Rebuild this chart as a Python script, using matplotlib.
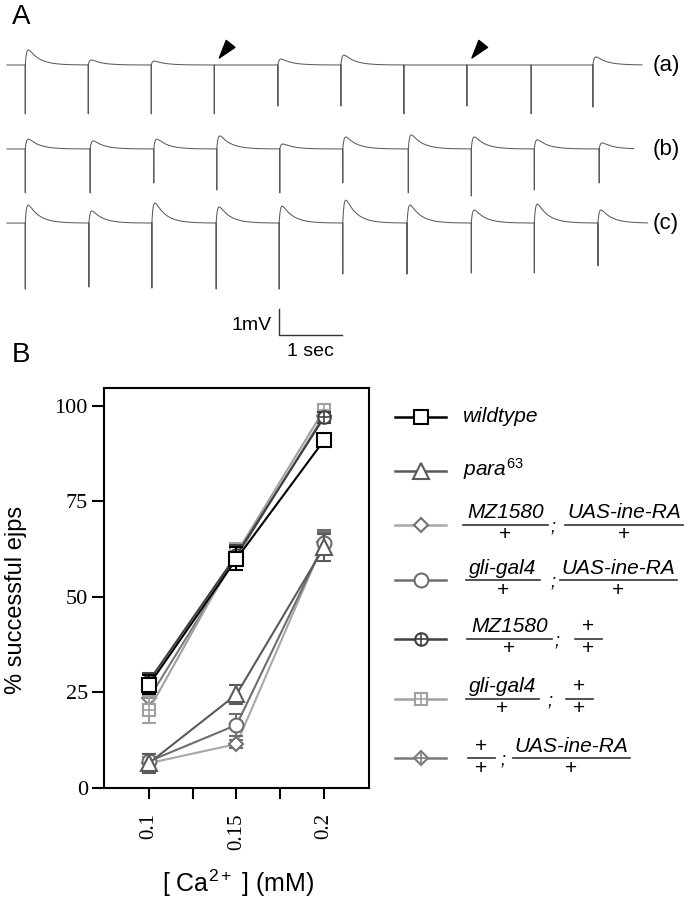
import numpy as np
import matplotlib
matplotlib.use('Agg')
import matplotlib.pyplot as plt

plt.rcParams['font.family'] = ['Liberation Sans', 'DejaVu Sans']
plt.rcParams['mathtext.fontset'] = 'custom'
plt.rcParams['mathtext.rm'] = 'Liberation Sans'
plt.rcParams['mathtext.it'] = 'Liberation Sans:italic'
plt.rcParams['mathtext.default'] = 'regular'

W, H = 688, 899

# ---- panel A: recordings (time in s, voltage in mV) ----
stim_a = [0.29, 1.29, 2.29, 3.29, 4.30, 5.30, 6.30, 7.30, 8.32, 9.30]
ejp_a = [0.58, 0.19, 0.15, 0.0, 0.23, 0.38, 0.0, 0.0, 0.0, 0.31]
art_a = [1.88, 1.88, 1.88, 1.88, 1.58, 1.58, 1.88, 1.58, 1.88, 1.62]

stim_b = [0.29, 1.32, 2.33, 3.33, 4.33, 5.33, 6.37, 7.37, 8.37, 9.40]
ejp_b = [0.38, 0.31, 0.38, 0.50, 0.19, 0.46, 0.54, 0.46, 0.35, 0.23]
art_b = [1.69, 1.69, 1.31, 1.58, 1.69, 1.31, 1.69, 1.81, 1.58, 1.31]

stim_c = [0.29, 1.30, 2.30, 3.32, 4.32, 5.33, 6.35, 7.37, 8.37, 9.38]
ejp_c = [0.69, 0.46, 0.77, 0.62, 0.65, 0.88, 0.69, 0.50, 0.73, 0.50]
art_c = [2.54, 2.46, 2.50, 2.54, 2.54, 1.96, 1.96, 1.92, 1.92, 1.65]

trace_end = [10.08, 9.95, 10.17]
trace_offset = [-2.5, -5.73, -8.58]
failures_a = [3, 7]          # stimuli in trace (a) without an ejp

# ---- panel B: % successful ejps ----
conc = [0.1, 0.15, 0.2]
wildtype = [27.0, 60.0, 91.0]
wildtype_err = [2.5, 3.0, 1.0]
para63 = [6.5, 24.5, 63.0]
para63_err = [2.5, 2.5, 3.5]
mz_uas = [6.5, 11.5, 64.5]
mz_uas_err = [1.5, 1.0, 3.0]
gli_uas = [7.0, 16.5, 64.0]
gli_uas_err = [2.0, 3.0, 3.0]
mz_plus = [28.0, 61.0, 97.0]
mz_plus_err = [2.0, 2.5, 1.5]
gli_plus = [20.5, 61.5, 99.0]
gli_plus_err = [3.5, 2.5, 1.5]
plus_uas = [23.5, 60.5, 97.5]
plus_uas_err = [2.0, 2.0, 1.5]

yticks = [0, 25, 50, 75, 100]
xticks = [0.1, 0.125, 0.15, 0.175, 0.2]
xticklabels = ['0.1', '', '0.15', '', '0.2']


def px_axes(fig, x0, y0, x1, y1):
    """axes placed by pixel box (top-left origin)"""
    return fig.add_axes([x0 / W, 1 - y1 / H, (x1 - x0) / W, (y1 - y0) / H])


def make_trace(stims, amps, depths, t_end, dt=0.002):
    t = np.arange(0, t_end, dt)
    v = np.zeros_like(t)
    for s, a, d in zip(stims, amps, depths):
        m = t >= s
        tt = t[m] - s
        shape = np.exp(-tt / 0.17) - np.exp(-tt / 0.02)
        shape /= shape.max()
        v[m] += a * shape
        v[np.argmin(np.abs(t - s))] = -d
    return t, v


fig = plt.figure(figsize=(W / 100, H / 100), dpi=100)

# panel A
ax_a = px_axes(fig, 0, 0, W, 360)
ax_a.axis('off')
ax_a.set_xlim(-7 / 63, (W - 7) / 63)
ax_a.set_ylim(-360 / 26, 0)

traces = [(stim_a, ejp_a, art_a), (stim_b, ejp_b, art_b), (stim_c, ejp_c, art_c)]
for (st, amp, dep), t_end, off in zip(traces, trace_end, trace_offset):
    t, v = make_trace(st, amp, dep, t_end)
    ax_a.plot(t, off + v, color='#5c5c5c', lw=0.75)

for i in failures_a:
    ax_a.annotate('', xy=(stim_a[i] + 0.08, trace_offset[0] + 0.27), xytext=(8, 10),
                  textcoords='offset points',
                  arrowprops=dict(facecolor='black', edgecolor='black', width=0.01,
                                  headwidth=8, headlength=13, shrink=0))

# scale bar: 1 mV / 1 sec
bar_t, bar_v = 4.317, -11.885
ax_a.plot([bar_t, bar_t, bar_t + 1], [bar_v, bar_v - 1, bar_v - 1], color='#333333', lw=1)

# panel B
ax = px_axes(fig, 104, 388, 369, 788)
ax.set_xlim(0.0743, 0.2257)
ax.set_ylim(0, 104.7)
for sp in ax.spines.values():
    sp.set_linewidth(1.5)
ax.set_yticks(yticks)
ax.set_yticklabels([str(v) for v in yticks])
ax.set_xticks(xticks)
ax.set_xticklabels(xticklabels, rotation=90)
ax.tick_params(axis='y', length=8.6, width=1.5, pad=3, labelsize=16)
ax.tick_params(axis='x', length=8, width=1.5, pad=10, labelsize=15)
for lab in ax.get_xticklabels() + ax.get_yticklabels():
    lab.set_fontfamily('Liberation Serif')

series = {
    # values, errors, line colour, marker colour, marker, size, overlay '+'
    'mz_uas': (mz_uas, mz_uas_err, '#a8a8a8', '#707070', 'D', 7.5, False),
    'gli_uas': (gli_uas, gli_uas_err, '#6e6e6e', '#6e6e6e', 'o', 10, False),
    'para63': (para63, para63_err, '#5a5a5a', '#5a5a5a', '^', 11, False),
    'plus_uas': (plus_uas, plus_uas_err, '#7a7a7a', '#7a7a7a', 'D', 7.5, True),
    'gli_plus': (gli_plus, gli_plus_err, '#a0a0a0', '#a0a0a0', 's', 9, True),
    'mz_plus': (mz_plus, mz_plus_err, '#404040', '#404040', 'o', 9, True),
    'wildtype': (wildtype, wildtype_err, 'black', 'black', 's', 10, False),
}
for z, (vals, err, lc, mc, mk, ms, plus) in enumerate(series.values()):
    ax.errorbar(conc, vals, yerr=err, color=lc, ecolor=mc, lw=1.5, elinewidth=1.5,
                capsize=5, capthick=1.5, marker=mk, ms=ms, mfc='white', mec=mc,
                mew=1.5, zorder=3 + z, clip_on=False)
    if plus:
        ax.plot(conc, vals, ls='none', marker='+', ms=ms * 0.95, mec=mc, mew=1.2,
                zorder=3.5 + z, clip_on=False)

# overlay for text and legend (pixel coordinates)
ov = fig.add_axes([0, 0, 1, 1])
ov.set_xlim(0, W)
ov.set_ylim(H, 0)
ov.axis('off')

ov.text(12, 4, 'A', fontsize=20, va='top', ha='left')
ov.text(12, 342, 'B', fontsize=20, va='top', ha='left')
for lab, y in zip(['(a)', '(b)', '(c)'], [65, 149, 223]):
    ov.text(653, y, lab, fontsize=16, va='center', ha='left')
ov.text(272, 325, '1mV', fontsize=14, va='center', ha='right')
ov.text(310, 352, '1 sec', fontsize=14, va='center', ha='center')

ov.text(16, 600, '% successful ejps', fontsize=17, rotation=90, va='center', ha='center')
ov.text(238, 883, r'[ Ca$^{2+}$ ] (mM)', fontsize=18, va='center', ha='center')

# legend
rows = [417, 471, 525, 580, 639, 699, 758]
leg_order = ['wildtype', 'para63', 'mz_uas', 'gli_uas', 'mz_plus', 'gli_plus', 'plus_uas']
for key, y in zip(leg_order, rows):
    vals, err, lc, mc, mk, ms, plus = series[key]
    ov.plot([395, 446], [y, y], color=lc, lw=1.8)
    ov.plot([421], [y], marker=mk, ms=ms, mfc='white', mec=mc, mew=1.5)
    if plus:
        ov.plot([421], [y], marker='+', ms=ms * 0.95, mec=mc, mew=1.2)


def frac(x0, x1, y, num, italic=True):
    xc = (x0 + x1) / 2
    ov.text(xc, y - 12, num, fontsize=15, style='italic' if italic else 'normal',
            ha='center', va='center')
    ov.plot([x0, x1], [y, y], color='#333333', lw=1.2)
    ov.text(xc, y + 10, '+', fontsize=15, ha='center', va='center')


def semi(x, y):
    ov.text(x, y + 2, ';', fontsize=13, style='italic', ha='center', va='center')


ov.text(463, rows[0], 'wildtype', fontsize=15, style='italic', va='center')
ov.text(463, rows[1] - 2, r'$\mathit{para}^{\mathit{63}}$', fontsize=15, va='center')

frac(463, 548, rows[2], 'MZ1580'); semi(553, rows[2]); frac(565, 683, rows[2], 'UAS-ine-RA')
frac(466, 540, rows[3], 'gli-gal4'); semi(553, rows[3]); frac(560, 677, rows[3], 'UAS-ine-RA')
frac(467, 552, rows[4], 'MZ1580'); semi(557, rows[4]); frac(575, 602, rows[4], '+', False)
frac(466, 539, rows[5], 'gli-gal4'); semi(550, rows[5]); frac(566, 593, rows[5], '+', False)
frac(468, 495, rows[6], '+', False); semi(503, rows[6]); frac(513, 630, rows[6], 'UAS-ine-RA')

fig.savefig('out.png', dpi=100)
